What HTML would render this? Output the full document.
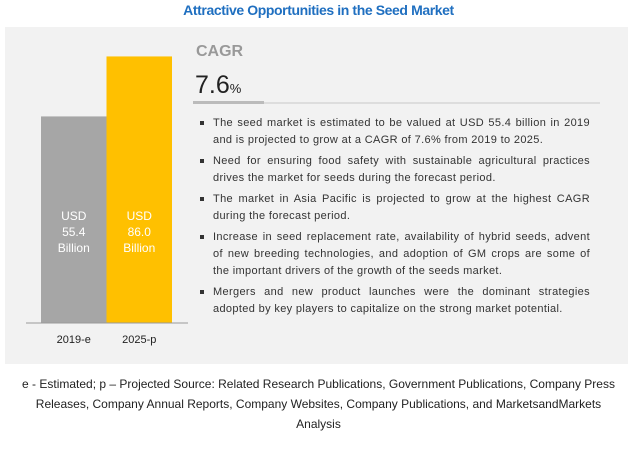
<!DOCTYPE html>
<html><head><meta charset="utf-8"><style>
body{margin:0;width:637px;height:451px;background:#fff;font-family:"Liberation Sans",sans-serif;position:relative;overflow:hidden}
.abs{position:absolute}
#title{left:0;width:637px;top:2px;text-align:center;color:#1f6fc0;font-weight:bold;font-size:14px;letter-spacing:-0.4px}
#panel{left:5px;top:27px;width:623px;height:337px;background:#f2f2f2}
ul{position:absolute;left:198px;top:115px;width:392px;margin:0;padding:0;list-style:none;font-size:11px;color:#333;line-height:17px;letter-spacing:0.35px}
li{position:relative;padding-left:15px;text-align:justify;margin-bottom:4px}
li:before{content:"";position:absolute;left:2px;top:6px;width:4px;height:4px;background:#333}
#foot{left:0;width:637px;top:374px;text-align:center;font-size:12px;line-height:20px;color:#222}
</style></head><body>
<div id="title" class="abs">Attractive Opportunities in the Seed Market</div>
<div id="panel" class="abs"></div>
<svg class="abs" style="left:0;top:0" width="637" height="451">
<g id="bars"></g>
<line x1="26" y1="323" x2="188" y2="323" stroke="#999" stroke-width="1"/>
<text x="196" y="56" font-size="16" font-weight="bold" fill="#999" font-family="Liberation Sans">CAGR</text>
<text x="195" y="93" font-size="25" fill="#222" font-family="Liberation Sans">7.6<tspan font-size="13">%</tspan></text>
<line x1="193" y1="103" x2="600" y2="103" stroke="#ddd" stroke-width="2"/>
<line x1="193" y1="102.5" x2="264" y2="102.5" stroke="#bbb" stroke-width="3"/>
</svg>
<ul>
<li>The seed market is estimated to be valued at USD 55.4 billion in 2019 and is projected to grow at a CAGR of 7.6% from 2019 to 2025.</li>
<li>Need for ensuring food safety with sustainable agricultural practices drives the market for seeds during the forecast period.</li>
<li>The market in Asia Pacific is projected to grow at the highest CAGR during the forecast period.</li>
<li>Increase in seed replacement rate, availability of hybrid seeds, advent of new breeding technologies, and adoption of GM crops are some of the important drivers of the growth of the seeds market.</li>
<li>Mergers and new product launches were the dominant strategies adopted by key players to capitalize on the strong market potential.</li>
</ul>
<div id="foot" class="abs">e - Estimated; p – Projected Source: Related Research Publications, Government Publications, Company Press<br>Releases, Company Annual Reports, Company Websites, Company Publications, and MarketsandMarkets<br>Analysis</div>
<script>
const categories=["2019-e","2025-p"];
const values=[55.4,86.0];
const valueLabels=["55.4","86.0"];
const colors=["#a6a6a6","#ffc000"];
const base=323,x0=41,bw=65.5;
function y(v){return base-(v+50)*1.96;}
const g=document.getElementById('bars');
const NS="http://www.w3.org/2000/svg";
categories.forEach((c,i)=>{
 const r=document.createElementNS(NS,'rect');
 r.setAttribute('x',x0+i*bw);r.setAttribute('y',y(values[i]));
 r.setAttribute('width',bw);r.setAttribute('height',base-y(values[i]));
 r.setAttribute('fill',colors[i]);
 
 
 g.appendChild(r);
 const cx=x0+i*bw+bw/2;
 ["USD",valueLabels[i],"Billion"].forEach((t,j)=>{
  const tx=document.createElementNS(NS,'text');
  tx.setAttribute('x',cx);tx.setAttribute('y',220+j*16);
  tx.setAttribute('text-anchor','middle');tx.setAttribute('font-size','12');
  tx.setAttribute('fill','#fff');tx.setAttribute('font-family','Liberation Sans');
  tx.textContent=t;
  
  
  g.appendChild(tx);
 });
 const l=document.createElementNS(NS,'text');
 l.setAttribute('x',cx);l.setAttribute('y',343);
 l.setAttribute('text-anchor','middle');l.setAttribute('font-size','11');
 l.setAttribute('fill','#222');l.setAttribute('font-family','Liberation Sans');
 l.textContent=c;
 
 
 g.appendChild(l);
});
</script>
</body></html>
